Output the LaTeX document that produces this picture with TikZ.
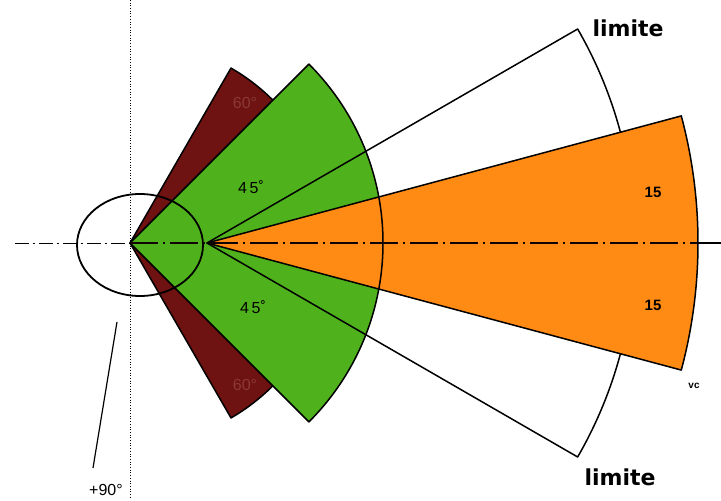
\documentclass[tikz,border=0pt]{standalone}
\usepackage{fontspec}
\setmainfont{Liberation Sans}
\newfontfamily\limfont{DejaVu Sans}
\usetikzlibrary{calc}
\definecolor{brownsec}{HTML}{6E1212}
\definecolor{greensec}{HTML}{4FB21C}
\definecolor{orangesec}{HTML}{FF8A14}
\definecolor{brownlab}{HTML}{8A3A30}
\begin{document}
\begin{tikzpicture}[x=1pt,y=1pt,
  outline/.style={draw=black,line width=1.5pt,line join=round},
  lab/.style={inner sep=0pt,font=\fontsize{16}{16}\selectfont},
  limlab/.style={inner sep=0pt,font=\limfont\bfseries\fontsize{22}{22}\selectfont},
  axisline/.style={line width=0.7pt,dash pattern=on 14pt off 4pt on 2pt off 4pt}]
\useasboundingbox (0,0) rectangle (721,501);
\coordinate (A) at (130,258);
\coordinate (B) at (207,258);
% brown sector
\fill[brownsec] (A) -- ++(60:202) arc[start angle=60,end angle=-60,radius=202] -- cycle;
\draw[outline] (A) -- ++(60:202) arc[start angle=60,end angle=-60,radius=202] -- cycle;
% green fill
\fill[greensec] (A) -- ++(45:253) arc[start angle=45,end angle=-45,radius=253] -- cycle;
% white limit sector
\draw[outline] (B) -- ++(30:428) arc[start angle=30,end angle=-30,radius=428] -- cycle;
% orange sector
\filldraw[fill=orangesec,outline] (B) -- ++(15:491) arc[start angle=15,end angle=-15,radius=491] -- cycle;
% green outline
\draw[outline] (A) -- ++(45:253) arc[start angle=45,end angle=-45,radius=253] -- cycle;
% ellipse
\draw[line width=1.8pt] (140,256) ellipse[x radius=63,y radius=51];
% axes
\coordinate (L) at (15,258);
\coordinate (R) at (698,258);
\coordinate (E) at (721,258);
\coordinate (T) at (130,501);
\coordinate (D) at (130,4);
\draw[axisline] (L) -- (A);
\draw[line width=1.8pt,black!85!brownsec,dash pattern=on 28pt off 5pt on 2pt off 5pt] (A) -- (R);
\draw[line width=1.6pt] (R) -- (E);
\draw[line width=0.7pt,dotted] (T) -- (D);
% +90 line
\coordinate (P1) at (117,179);
\coordinate (P2) at (93,33);
\draw[line width=1.2pt] (P1) -- (P2);
% labels
\node[lab,text=brownlab] (b1) at (245,398) {60°};
\node[lab,text=brownlab] (b2) at (245,116) {60°};
\node[lab] (g1) at (251,314) {4\,5˚};
\node[lab] (g2) at (253,194) {4\,5˚};
\node[lab,font=\bfseries\fontsize{15}{15}\selectfont] (o1) at (653,309) {15};
\node[lab,font=\bfseries\fontsize{15}{15}\selectfont] (o2) at (653,196) {15};
\node[lab,font=\bfseries\fontsize{10}{10}\selectfont] (vc) at (694,115) {vc};
\node[limlab] (lim1) at (628,473) {limite};
\node[limlab] (lim2) at (620,24) {limite};
\node[lab,font=\fontsize{16}{16}\selectfont] (n90) at (106,11) {+90°};
\end{tikzpicture}
\end{document}
